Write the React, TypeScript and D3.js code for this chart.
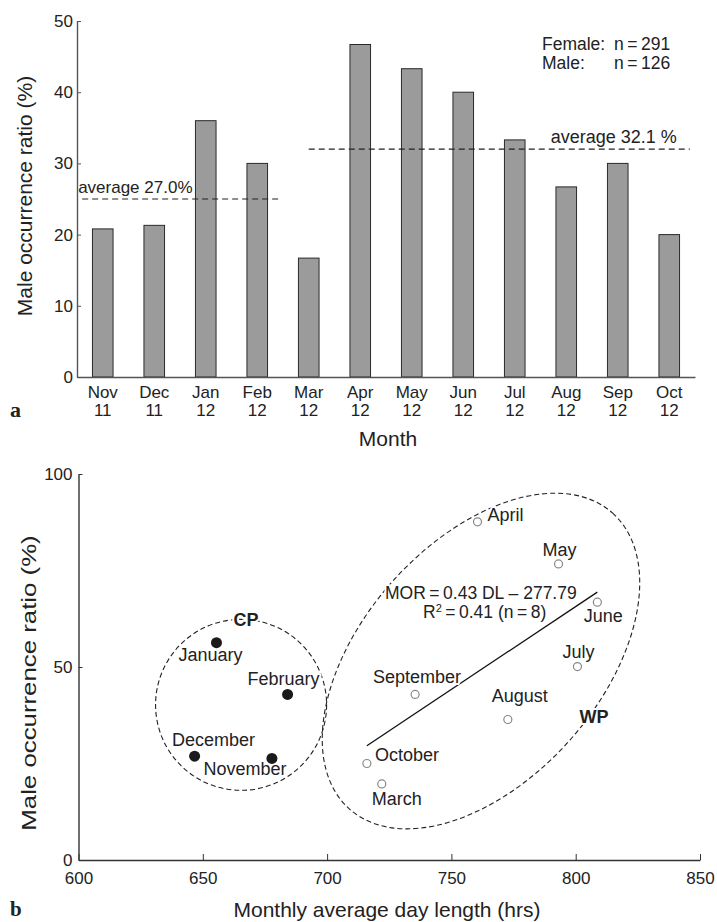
import React, { useRef, useEffect } from 'react';
import { scaleBand, scaleLinear, select, axisLeft, axisBottom } from 'd3';

// panel a: monthly male occurrence ratio
const MONTHS = ['Nov', 'Dec', 'Jan', 'Feb', 'Mar', 'Apr', 'May', 'Jun', 'Jul', 'Aug', 'Sep', 'Oct'];
const YEARS = ['11', '11', '12', '12', '12', '12', '12', '12', '12', '12', '12', '12'];
const MALE_RATIO = [20.8, 21.3, 36.0, 30.0, 16.7, 46.7, 43.3, 40.0, 33.3, 26.7, 30.0, 20.0];
const BAR_TICKS = [0, 10, 20, 30, 40, 50];

const AVG_LABELS = ['average 27.0%', 'average 32.1 %'];
const AVG_VALUES = [25.0, 32.0];
const AVG_FROM = [0.1, 4.5]; // month slots
const AVG_TO = [3.95, 11.9];

const SAMPLE_LABELS = ['Female:', 'Male:'];
const SAMPLE_SIZES = ['n\u2009=\u2009291', 'n\u2009=\u2009126'];

// panel b: day length vs male occurrence ratio
const CP_NAMES = ['January', 'February', 'December', 'November'];
const CP_DAY = [655.5, 684.1, 646.7, 677.8];
const CP_MOR = [56.3, 42.9, 26.9, 26.3];

const WP_NAMES = ['April', 'May', 'June', 'July', 'September', 'August', 'October', 'March'];
const WP_DAY = [760.5, 793.1, 808.7, 800.7, 735.4, 772.7, 716.0, 722.0];
const WP_MOR = [87.6, 76.7, 66.8, 50.1, 42.9, 36.4, 25.0, 19.7];

const FIT_DAY = [716.0, 808.7];
const FIT_MOR = [29.6, 69.4];

const DAY_TICKS = [600, 650, 700, 750, 800, 850];
const MOR_TICKS = [0, 50, 100];

const CP_CENTER = [665.4, 40.2];
const CP_RADIUS = [34.4, 22.15];
const WP_CENTER = [761.9, 51.55];

const FONT = '"Liberation Sans", Arial, Helvetica, sans-serif';
const SERIF = '"Liberation Serif", "Times New Roman", serif';

const A = { left: 77, right: 695, top: 21, bottom: 377 };
const B = { left: 78.5, right: 700, top: 474, bottom: 860 };

// label placement around each point (px)
const LABEL_POS = {
  January: ['middle', -6, 18],
  February: ['middle', -4, -9],
  December: ['middle', 19, -10],
  November: ['middle', -27, 17],
  April: ['start', 10, -1],
  May: ['middle', 1, -8],
  June: ['middle', 6, 20],
  July: ['middle', 1, -9],
  September: ['middle', 2, -11],
  August: ['middle', 12, -17],
  October: ['start', 8, -3],
  March: ['middle', 15, 21],
};

const halo = { stroke: '#fff', strokeWidth: 4, paintOrder: 'stroke' as const, strokeLinejoin: 'round' as const };

export default function App() {
  const aYRef = useRef(null);
  const aXRef = useRef(null);
  const bYRef = useRef(null);
  const bXRef = useRef(null);

  const band = scaleBand().domain(MONTHS).range([A.left, A.right]).paddingInner(0.6).paddingOuter(0.3);
  const slot = scaleLinear().domain([0, 12]).range([A.left, A.right]);
  const yA = scaleLinear().domain([0, 50]).range([A.bottom, A.top]);

  const xB = scaleLinear().domain([600, 850]).range([B.left, B.right]);
  const yB = scaleLinear().domain([0, 100]).range([B.bottom, B.top]);

  useEffect(() => {
    const style = (g, color) => {
      g.attr('color', color).attr('font-family', FONT).attr('font-size', 17);
      g.selectAll('.domain').attr('stroke-width', 1.4);
      g.selectAll('.tick text').attr('fill', '#222');
    };
    style(
      select(aYRef.current).call(axisLeft(yA).tickValues(BAR_TICKS).tickSizeInner(-4).tickSizeOuter(0).tickPadding(4)),
      '#555'
    );
    style(
      select(aXRef.current).call(axisBottom(band).tickSize(0).tickFormat(() => '')),
      '#555'
    );
    style(
      select(bYRef.current).call(axisLeft(yB).tickValues(MOR_TICKS).tickSizeInner(-4).tickSizeOuter(0).tickPadding(6)),
      '#333'
    );
    style(
      select(bXRef.current).call(axisBottom(xB).tickValues(DAY_TICKS).tickSizeInner(-6).tickSizeOuter(0).tickPadding(12)),
      '#333'
    );
  }, []);

  const wpCx = xB(WP_CENTER[0]);
  const wpCy = yB(WP_CENTER[1]);

  return (
    <svg width={717} height={922} style={{ position: 'absolute', left: 0, top: 0, background: '#fff' }} fontFamily={FONT}>
      {/* ---------- panel a ---------- */}
      {MALE_RATIO.map((v, i) => (
        <rect
          key={MONTHS[i]}
          x={band(MONTHS[i])}
          y={yA(v)}
          width={band.bandwidth()}
          height={yA(0) - yA(v)}
          fill="#9b9b9b"
          stroke="#2a2a2a"
          strokeWidth={1}
        />
      ))}
      <g ref={aYRef} transform={`translate(${A.left},0)`} />
      <g ref={aXRef} transform={`translate(0,${A.bottom})`} />
      {MONTHS.map((m, i) => (
        <text key={m} x={band(m) + band.bandwidth() / 2} textAnchor="middle" fontSize={17} fill="#222">
          <tspan x={band(m) + band.bandwidth() / 2} y={398}>{m}</tspan>
          <tspan x={band(m) + band.bandwidth() / 2} y={416}>{YEARS[i]}</tspan>
        </text>
      ))}
      {AVG_VALUES.map((v, i) => (
        <line
          key={i}
          x1={slot(AVG_FROM[i])}
          x2={slot(AVG_TO[i])}
          y1={yA(v)}
          y2={yA(v)}
          stroke="#222"
          strokeWidth={1.2}
          strokeDasharray="6,4"
        />
      ))}
      <text x={slot(AVG_FROM[0]) - 4} y={yA(AVG_VALUES[0]) - 6} fontSize={17} fill="#222">{AVG_LABELS[0]}</text>
      <text x={slot(AVG_TO[1]) - 13} y={yA(AVG_VALUES[1]) - 6} fontSize={18} fill="#222" textAnchor="end">{AVG_LABELS[1]}</text>
      {SAMPLE_LABELS.map((s, i) => (
        <g key={s} fontSize={17.5} fill="#222">
          <text x={542} y={50 + i * 19}>{s}</text>
          <text x={614} y={50 + i * 19}>{SAMPLE_SIZES[i]}</text>
        </g>
      ))}
      <text transform="translate(32,196) rotate(-90)" textAnchor="middle" fontSize={21} fill="#222">Male occurrence ratio (%)</text>
      <text x={388} y={446} textAnchor="middle" fontSize={21} fill="#222">Month</text>
      <text x={10} y={417} fontFamily={SERIF} fontWeight="bold" fontSize={22} fill="#222">a</text>

      {/* ---------- panel b ---------- */}
      <ellipse
        cx={xB(CP_CENTER[0])}
        cy={yB(CP_CENTER[1])}
        rx={xB(CP_CENTER[0] + CP_RADIUS[0]) - xB(CP_CENTER[0])}
        ry={yB(CP_CENTER[1]) - yB(CP_CENTER[1] + CP_RADIUS[1])}
        fill="none"
        stroke="#222"
        strokeWidth={1.1}
        strokeDasharray="5,3"
      />
      <ellipse
        cx={0}
        cy={0}
        rx={198}
        ry={119}
        transform={`translate(${wpCx},${wpCy}) rotate(-48.4)`}
        fill="none"
        stroke="#222"
        strokeWidth={1.1}
        strokeDasharray="5,3"
      />
      <line
        x1={xB(FIT_DAY[0])}
        y1={yB(FIT_MOR[0])}
        x2={xB(FIT_DAY[1])}
        y2={yB(FIT_MOR[1])}
        stroke="#111"
        strokeWidth={1.3}
      />
      <g ref={bYRef} transform={`translate(${B.left},0)`} />
      <g ref={bXRef} transform={`translate(0,${B.bottom})`} />

      {CP_NAMES.map((n, i) => {
        const [anchor, dx, dy] = LABEL_POS[n];
        return (
          <g key={n}>
            <text x={xB(CP_DAY[i]) + dx} y={yB(CP_MOR[i]) + dy} textAnchor={anchor} fontSize={18} fill="#222" {...halo}>{n}</text>
            <circle cx={xB(CP_DAY[i])} cy={yB(CP_MOR[i])} r={5.5} fill="#1a1a1a" />
          </g>
        );
      })}
      {WP_NAMES.map((n, i) => {
        const [anchor, dx, dy] = LABEL_POS[n];
        return (
          <g key={n}>
            <text x={xB(WP_DAY[i]) + dx} y={yB(WP_MOR[i]) + dy} textAnchor={anchor} fontSize={18} fill="#222" {...halo}>{n}</text>
            <circle cx={xB(WP_DAY[i])} cy={yB(WP_MOR[i])} r={4} fill="#fff" stroke="#888" strokeWidth={1.2} />
          </g>
        );
      })}

      <text x={385} y={599} fontSize={17.5} fill="#222" {...halo}>MOR{'\u2009=\u2009'}0.43 DL {'\u2013'} 277.79</text>
      <text x={423} y={618} fontSize={17.5} fill="#222" {...halo}>
        R<tspan dy={-6} fontSize={11}>2</tspan>
        <tspan dy={6}>{'\u2009=\u2009'}0.41 (n{'\u2009=\u2009'}8)</tspan>
      </text>
      <text x={246} y={626} textAnchor="middle" fontSize={18} fontWeight="bold" fill="#222" {...halo}>CP</text>
      <text x={594} y={723} textAnchor="middle" fontSize={18} fontWeight="bold" fill="#222" {...halo}>WP</text>

      <text transform="translate(36,683) rotate(-90) scale(1.23,1)" textAnchor="middle" fontSize={21} fill="#222">
        Male occurrence ratio (%)
      </text>
      <text x={387} y={917} textAnchor="middle" fontSize={21} fill="#222">Monthly average day length (hrs)</text>
      <text x={10} y={916} fontFamily={SERIF} fontWeight="bold" fontSize={21} fill="#222">b</text>
    </svg>
  );
}
